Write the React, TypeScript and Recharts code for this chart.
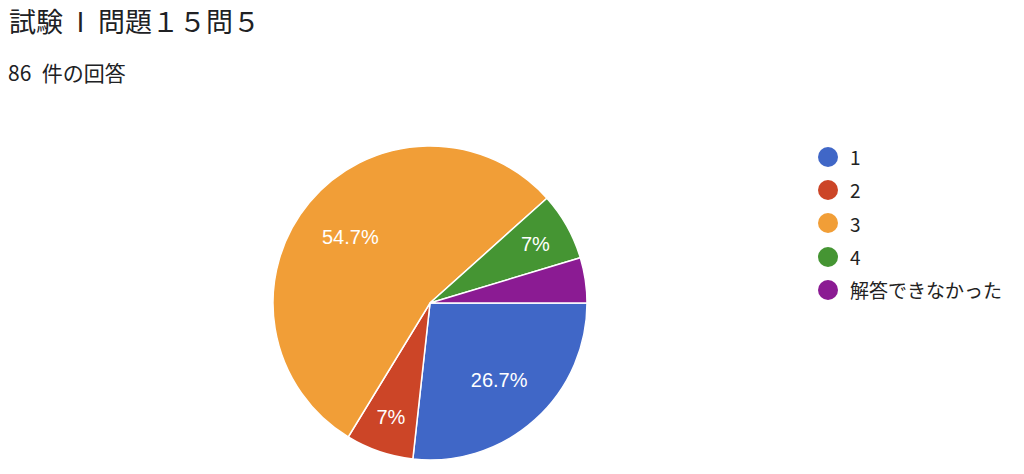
import { PieChart, Pie, Cell, Legend } from 'recharts';

const categories = ['1', '2', '3', '4', '解答できなかった'];
const counts = [23, 6, 47, 6, 4];
const colors = ['#4067c7', '#cc4527', '#f19e37', '#459533', '#8b1b93'];

const title = '試験\u2002I\u2002問題１５問５';
const subtitle = '86\u2002件の回答';

const data = categories.map((name, i) => ({ name, value: counts[i] }));

const FONT = "'Noto Sans CJK JP', sans-serif";
const LABEL_FONT = "'Liberation Sans', Arial, sans-serif";
const RAD = Math.PI / 180;

// google hides labels for tiny slices, pushes small ones further out
const renderLabel = (props: any) => {
  const { cx, cy, midAngle, outerRadius, percent } = props;
  if (percent < 0.05) return null;
  const r = outerRadius * (percent < 0.1 ? 0.77 : 0.66);
  const x = cx + r * Math.cos(-midAngle * RAD);
  const y = cy + r * Math.sin(-midAngle * RAD);
  const pct = Math.round(percent * 1000) / 10;
  return (
    <text x={x} y={y} fill="#ffffff" fontSize={20} fontFamily={LABEL_FONT}
      textAnchor="middle" dominantBaseline="central">
      {`${pct}%`}
    </text>
  );
};

const renderLegend = (props: any) => {
  const { payload } = props;
  return (
    <div>
      {(payload || []).map((entry: any, i: number) => (
        <div key={`leg-${i}`} style={{ display: 'flex', alignItems: 'center', height: 33.3 }}>
          <span style={{
            display: 'inline-block', width: 20, height: 20, borderRadius: '50%',
            background: entry.color, marginRight: 12,
          }} />
          <span style={{ fontSize: 19, color: '#222', fontFamily: FONT }}>{entry.value}</span>
        </div>
      ))}
    </div>
  );
};

export default function App() {
  return (
    <div style={{ position: 'relative', width: 1008, height: 458, fontFamily: FONT }}>
      <div style={{ position: 'absolute', left: 1, top: -7, fontSize: 27, color: '#202124', whiteSpace: 'pre' }}>
        {title}
      </div>
      <div style={{ position: 'absolute', left: 0, top: 49, fontSize: 21, color: '#202124', whiteSpace: 'pre' }}>
        {subtitle}
      </div>
      <PieChart width={1008} height={458}>
        <Pie
          data={data}
          dataKey="value"
          nameKey="name"
          cx={417}
          cy={290}
          outerRadius={157}
          startAngle={0}
          endAngle={-360}
          stroke="#ffffff"
          strokeWidth={1.5}
          label={renderLabel}
          labelLine={false}
          isAnimationActive={false}
        >
          {data.map((entry, i) => (
            <Cell key={`cell-${i}`} fill={colors[i]} />
          ))}
        </Pie>
        <Legend
          content={renderLegend}
          wrapperStyle={{ position: 'absolute', left: 810, top: 132, width: 200 }}
        />
      </PieChart>
    </div>
  );
}
